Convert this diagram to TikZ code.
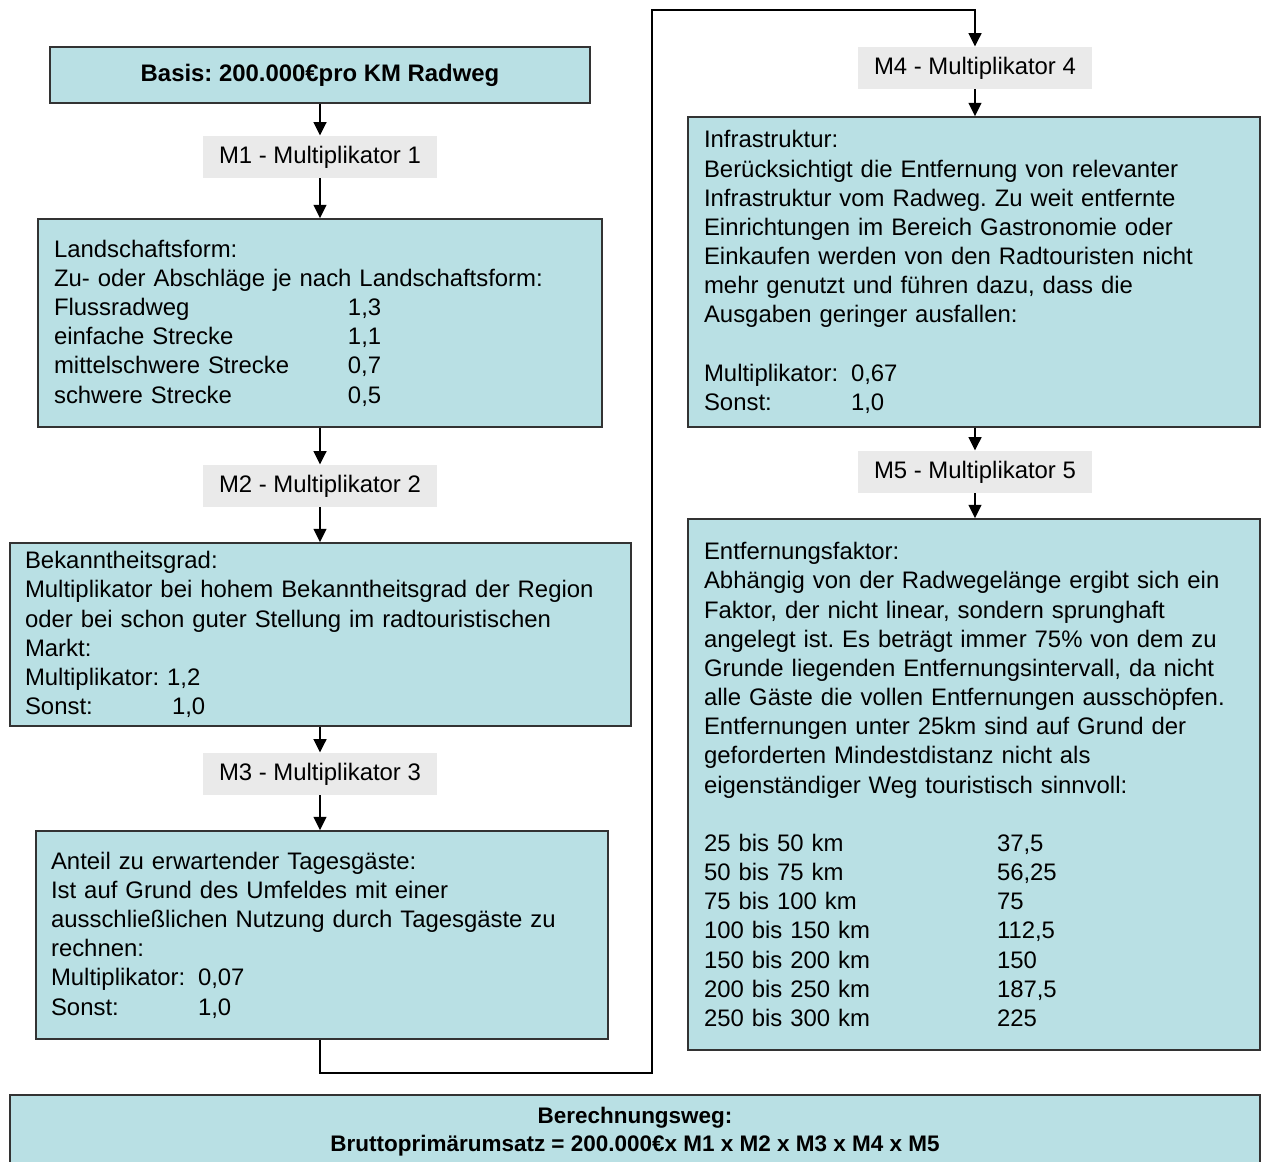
\documentclass[tikz,border=0pt]{standalone}
\usepackage{fontspec}
\setmainfont{Liberation Sans}
\usepackage{xcolor}
\usepackage{tikz}
\usetikzlibrary{arrows.meta, positioning}

\definecolor{boxcyan}{RGB}{185,224,228}
\definecolor{labelgray}{RGB}{234,234,234}
\newcommand{\boxfont}{\fontsize{13.6}{16.6}\selectfont\frenchspacing}
\newcommand{\tabto}[2]{\makebox[#1][l]{#2}}

\begin{document}
\begin{tikzpicture}[x=0.02cm, y=-0.02cm,
  infobox/.style={draw=black!80, line width=0.8pt, fill=boxcyan, align=left, inner ysep=0pt, font=\boxfont},
  multlabel/.style={fill=labelgray, minimum width=4.7cm, minimum height=0.84cm, inner sep=0pt, font=\boxfont},
  flow/.style={line width=1.6pt, -{Triangle[length=0.27cm, width=0.25cm]}}]
\useasboundingbox (0,0) rectangle (1265,1162);

% Left column
\node[infobox, font=\boxfont\bfseries, align=center, minimum width=10.8cm, minimum height=1.12cm] (basis) at (320,75) {Basis: 200.000€pro KM Radweg};
\node[multlabel] (m1) at (320,157) {M1 - Multiplikator 1};
\node[infobox, text width=10.64cm, inner xsep=0.32cm, minimum height=4.16cm] (land) at (320,323) {%
Landschaftsform:\\
Zu- oder Abschläge je nach Landschaftsform:\\
\tabto{5.88cm}{Flussradweg}1,3\\
\tabto{5.88cm}{einfache Strecke}1,1\\
\tabto{5.88cm}{mittelschwere Strecke}0,7\\
\tabto{5.88cm}{schwere Strecke}0,5};
\node[multlabel] (m2) at (320,486) {M2 - Multiplikator 2};
\node[infobox, text width=11.82cm, inner xsep=0.3cm, minimum height=3.66cm] (bekannt) at (320.5,634.5) {%
Bekanntheitsgrad:\\
Multiplikator bei hohem Bekanntheitsgrad der Region\\
oder bei schon guter Stellung im radtouristischen\\
Markt:\\
Multiplikator: 1,2\\
\tabto{2.94cm}{Sonst:}1,0};
\node[multlabel] (m3) at (320,774) {M3 - Multiplikator 3};
\node[infobox, text width=10.84cm, inner xsep=0.3cm, minimum height=4.16cm] (anteil) at (322,935) {%
Anteil zu erwartender Tagesgäste:\\
Ist auf Grund des Umfeldes mit einer\\
ausschließlichen Nutzung durch Tagesgäste zu\\
rechnen:\\
\tabto{2.94cm}{Multiplikator:}0,07\\
\tabto{2.94cm}{Sonst:}1,0};

% Right column
\node[multlabel] (m4) at (975,68) {M4 - Multiplikator 4};
\node[infobox, text width=10.8cm, inner xsep=0.32cm, minimum height=6.2cm] (infra) at (974,272) {%
Infrastruktur:\\
Berücksichtigt die Entfernung von relevanter\\
Infrastruktur vom Radweg. Zu weit entfernte\\
Einrichtungen im Bereich Gastronomie oder\\
Einkaufen werden von den Radtouristen nicht\\
mehr genutzt und führen dazu, dass die\\
Ausgaben geringer ausfallen:\\[16.6pt]
\tabto{2.94cm}{Multiplikator:}0,67\\
\tabto{2.94cm}{Sonst:}1,0};
\node[multlabel] (m5) at (975,472) {M5 - Multiplikator 5};
\node[infobox, text width=10.8cm, inner xsep=0.32cm, minimum height=10.62cm] (entf) at (974,784.5) {%
Entfernungsfaktor:\\
Abhängig von der Radwegelänge ergibt sich ein\\
Faktor, der nicht linear, sondern sprunghaft\\
angelegt ist. Es beträgt immer 75\% von dem zu\\
Grunde liegenden Entfernungsintervall, da nicht\\
alle Gäste die vollen Entfernungen ausschöpfen.\\
Entfernungen unter 25km sind auf Grund der\\
geforderten Mindestdistanz nicht als\\
eigenständiger Weg touristisch sinnvoll:\\[16.6pt]
\tabto{5.86cm}{25 bis 50 km}37,5\\
\tabto{5.86cm}{50 bis 75 km}56,25\\
\tabto{5.86cm}{75 bis 100 km}75\\
\tabto{5.86cm}{100 bis 150 km}112,5\\
\tabto{5.86cm}{150 bis 200 km}150\\
\tabto{5.86cm}{200 bis 250 km}187,5\\
\tabto{5.86cm}{250 bis 300 km}225};

% Result
\node[infobox, font=\fontsize{12.8}{15.9}\selectfont\bfseries, align=center, minimum width=25cm, minimum height=1.48cm] (result) at (635,1132) {%
Berechnungsweg:\\
Bruttoprimärumsatz = 200.000€x M1 x M2 x M3 x M4 x M5};

% Arrows
\draw[flow] (basis.south) -- (basis.south |- m1.north);
\draw[flow] (m1.south) -- (m1.south |- land.north);
\draw[flow] (land.south) -- (land.south |- m2.north);
\draw[flow] (m2.south) -- (m2.south |- bekannt.north);
\draw[flow] (m2.south |- bekannt.south) -- (m3.north);
\draw[flow] (m3.south) -- (m3.south |- anteil.north);
\coordinate (loopbot) at (652,1073);
\coordinate (looptop) at (652,10);
\draw[flow] (m3.south |- anteil.south) |- (loopbot) -- (looptop) -| (m4.north);
\draw[flow] (m4.south) -- (m4.south |- infra.north);
\draw[flow] (m4.south |- infra.south) -- (m5.north);
\draw[flow] (m5.south) -- (m5.south |- entf.north);

\end{tikzpicture}
\end{document}
